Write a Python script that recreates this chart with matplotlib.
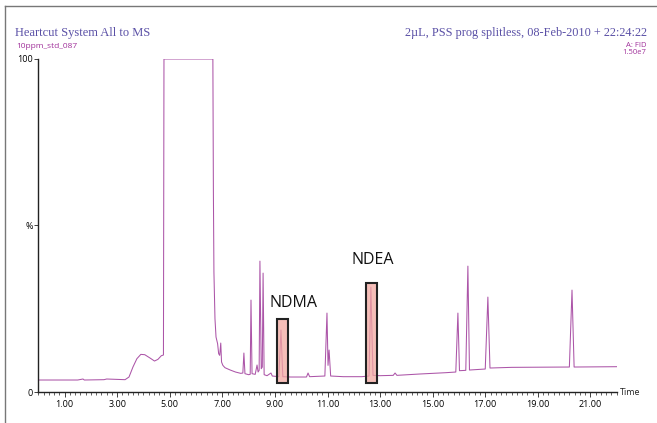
import matplotlib
matplotlib.use("Agg")
import matplotlib.pyplot as plt
from matplotlib.patches import Rectangle
from matplotlib.lines import Line2D
from matplotlib.ticker import MultipleLocator, FixedLocator

# Chromatogram trace (time in min, response in %)
time = [0.0, 1.5, 1.7, 1.75, 2.5, 2.6, 3.3, 3.45, 3.6, 3.75, 3.9, 4.05, 4.25, 4.42, 4.55, 4.68,
        4.76, 4.78, 6.64, 6.66, 6.68, 6.72, 6.76, 6.82, 6.86, 6.90, 6.94, 6.97, 7.02, 7.1, 7.3,
        7.5, 7.7, 7.78, 7.82, 7.86, 8.0, 8.06, 8.09, 8.13, 8.25, 8.32, 8.36, 8.40, 8.43, 8.48,
        8.52, 8.55, 8.59, 8.7, 8.85, 8.9, 9.15, 9.23, 9.30, 9.6, 10.2, 10.26, 10.32, 10.9,
        10.98, 11.02, 11.06, 11.12, 11.6, 12.3, 12.58, 12.65, 12.73, 13.0, 13.5, 13.57, 13.64,
        14.5, 15.5, 15.88, 15.96, 16.02, 16.26, 16.34, 16.40, 17.0, 17.10, 17.18, 18.0, 20.2,
        20.30, 20.38, 22.0]
response = [3.6, 3.6, 3.9, 3.6, 3.7, 3.9, 3.7, 4.5, 7.5, 10.0, 11.3, 11.2, 10.2, 9.3, 9.8, 10.9,
            11.1, 100, 100, 60, 36, 22, 16.5, 14.5, 11.5, 11.0, 14.7, 9.0, 8.0, 7.3, 6.6,
            6.0, 5.6, 5.7, 11.7, 5.5, 5.2, 5.3, 27.6, 5.5, 5.3, 8.1, 6.0, 6.5, 39.3, 7.0,
            7.5, 35.7, 5.2, 4.9, 5.7, 4.8, 4.6, 18.6, 4.6, 4.5, 4.5, 5.7, 4.6, 4.8,
            23.7, 8.0, 12.6, 4.8, 4.6, 4.6, 4.8, 31.5, 5.0, 4.9, 5.0, 5.7, 5.0,
            5.4, 5.8, 6.0, 23.7, 6.4, 6.5, 37.8, 6.6, 6.9, 28.5, 7.2, 7.4, 7.5,
            30.6, 7.5, 7.6]

# Highlighted compounds: label, box time range, box response range
box_labels = ["NDMA", "NDEA"]
box_t0 = [9.08, 12.46]
box_t1 = [9.50, 12.88]
box_v0 = [2.7, 2.7]
box_v1 = [21.9, 32.7]
label_t = [9.7, 12.72]
label_v = [26.8, 39.5]

xtick_vals = [1, 3, 5, 7, 9, 11, 13, 15, 17, 19, 21]
xtick_labels = ["1.00", "3.00", "5.00", "7.00", "9.00", "11.00", "13.00", "15.00", "17.00", "19.00", "21.00"]
ytick_vals = [0, 50, 100]
ytick_labels = ["0", "%", "100"]

fig = plt.figure(figsize=(6.57, 4.23), dpi=100)
ax = fig.add_axes([38.3 / 657, 1 - 392 / 423, (616.7 - 38.3) / 657, (392 - 59) / 423])

ax.plot(time, response, color="#ac55a8", lw=0.75, zorder=2)

for t0, t1, v0, v1, lab, lt, lv in zip(box_t0, box_t1, box_v0, box_v1, box_labels, label_t, label_v):
    ax.add_patch(Rectangle((t0, v0), t1 - t0, v1 - v0, facecolor="#f2a8a0", alpha=0.75,
                           edgecolor="none", zorder=3))
    ax.add_patch(Rectangle((t0, v0), t1 - t0, v1 - v0, facecolor="none",
                           edgecolor="#222222", lw=1.5, zorder=4))
    ax.text(lt, lv, lab, ha="center", va="center", fontsize=11.5, color="#111111",
            family="Open Sans", zorder=5)

ax.set_xlim(0, 22.0)
ax.set_ylim(0, 100)
for s in ["top", "right"]:
    ax.spines[s].set_visible(False)
ax.spines["left"].set_color("#222222")
ax.spines["bottom"].set_color("#222222")
ax.spines["left"].set_linewidth(1.0)
ax.spines["bottom"].set_linewidth(1.0)

ax.xaxis.set_major_locator(FixedLocator(xtick_vals))
ax.set_xticklabels(xtick_labels)
ax.xaxis.set_minor_locator(MultipleLocator(0.2))
ax.tick_params(axis="x", which="major", length=3.5, width=0.6, labelsize=6.5, pad=2, color="#222222")
ax.tick_params(axis="x", which="minor", length=2, width=0.5, color="#222222")
ax.set_yticks(ytick_vals)
ax.set_yticklabels(ytick_labels)
ax.tick_params(axis="y", length=3, width=0.6, labelsize=6.5, pad=1, color="#222222")
for lbl in ax.get_xticklabels() + ax.get_yticklabels():
    lbl.set_family("Open Sans")

ax.text(1.006, 0.0, "Time", transform=ax.transAxes, ha="left", va="center",
        fontsize=6.5, family="Open Sans", color="#222222")

# Header texts
fig.text(15 / 657, 1 - 36 / 423, "Heartcut System All to MS", family="Liberation Serif",
         fontsize=9, color="#5a50a6", ha="left", va="baseline")
fig.text(16 / 657, 1 - 48 / 423, "10ppm_std_087", family="Open Sans",
         fontsize=6, color="#a0309a", ha="left", va="baseline")
fig.text(647 / 657, 1 - 36 / 423, "2\u00b5L, PSS prog splitless, 08-Feb-2010 + 22:24:22",
         family="Liberation Serif", fontsize=8.8, color="#5a50a6", ha="right", va="baseline")
fig.text(646 / 657, 1 - 47 / 423, "A: FID", family="Open Sans",
         fontsize=5.5, color="#a0309a", ha="right", va="baseline")
fig.text(646 / 657, 1 - 54 / 423, "1.50e7", family="Open Sans",
         fontsize=5.5, color="#a0309a", ha="right", va="baseline")

# Outer frame (top and left)
fig.add_artist(Line2D([5 / 657, 1.0], [1 - 6 / 423, 1 - 6 / 423], transform=fig.transFigure,
                      color="#777777", lw=1.0))
fig.add_artist(Line2D([5 / 657, 5 / 657], [0.0, 1 - 6 / 423], transform=fig.transFigure,
                      color="#777777", lw=1.0))

fig.savefig("out.png", dpi=100)
